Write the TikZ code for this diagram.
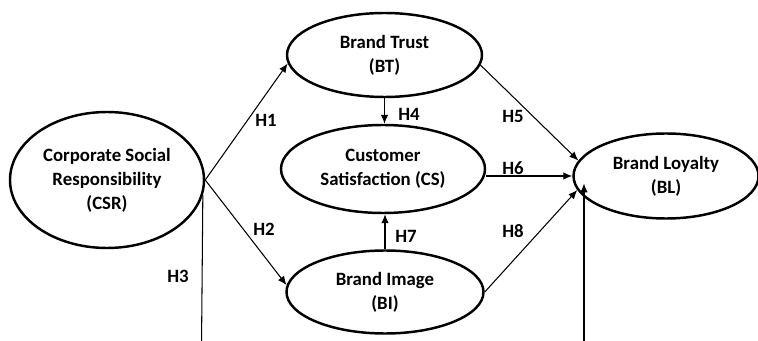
\documentclass[tikz,border=0pt]{standalone}
\usepackage{fontspec}
\setmainfont{Carlito}
\usepackage{xcolor}
\usetikzlibrary{positioning,arrows.meta,shapes.geometric}

\begin{document}
\begin{tikzpicture}[
    construct/.style={draw, ellipse, line width=1.4pt, align=center, inner sep=0pt,
        font=\fontsize{10.7}{13.6}\selectfont\bfseries},
    link/.style={-{Latex[length=1.8mm,width=1.5mm]}, line width=0.6pt},
    hyp/.style={font=\fontsize{10.7}{13}\selectfont\bfseries, inner sep=0pt}
]
\useasboundingbox (0,0) rectangle (15.16,-6.82);

\node[construct, minimum width=3.88cm, minimum height=2.72cm] (csr) at (2.14,-3.60) {Corporate Social\\Responsibility\\(CSR)};
\node[construct, minimum width=3.90cm, minimum height=1.68cm] (bt) at (7.69,-1.10) {Brand Trust\\(BT)};
\node[construct, minimum width=4.08cm, minimum height=1.76cm] (cs) at (7.66,-3.38) {Customer\\Satisfaction (CS)};
\node[construct, minimum width=3.94cm, minimum height=1.66cm] (bi) at (7.70,-5.84) {Brand Image\\(BI)};
\node[construct, minimum width=3.70cm, minimum height=1.70cm] (bl) at (13.32,-3.52) {Brand Loyalty\\(BL)};

\coordinate (h3foot) at (4.03,-6.95);
\coordinate (blfoot) at (11.68,-6.95);

\draw[link] (csr.east) -- (bt.185);
\draw[link] (csr.east) -- (bi.176);
\draw[line width=0.6pt] (csr.-9) -- (h3foot);
\draw[link] (bt.south) -- (bt.south |- cs.north);
\draw[link] (bi.north) -- (bi.north |- cs.south);
\draw[link] (bt.354) -- (bl.170);
\draw[link] (cs.east |- bl.west) -- (bl.west);
\draw[link] (bi.east) -- (bl.189);
\draw[link] (blfoot) -- ([yshift=-0.15cm]blfoot |- bl.west);

\node[hyp] (h1) at (5.32,-2.40) {H1};
\node[hyp] (h2) at (5.28,-4.58) {H2};
\node[hyp] (h3) at (3.56,-5.52) {H3};
\node[hyp] (h4) at (8.18,-2.28) {H4};
\node[hyp] (h5) at (10.26,-2.32) {H5};
\node[hyp] (h6) at (10.26,-3.36) {H6};
\node[hyp] (h7) at (8.12,-4.72) {H7};
\node[hyp] (h8) at (10.26,-4.62) {H8};

\end{tikzpicture}
\end{document}
